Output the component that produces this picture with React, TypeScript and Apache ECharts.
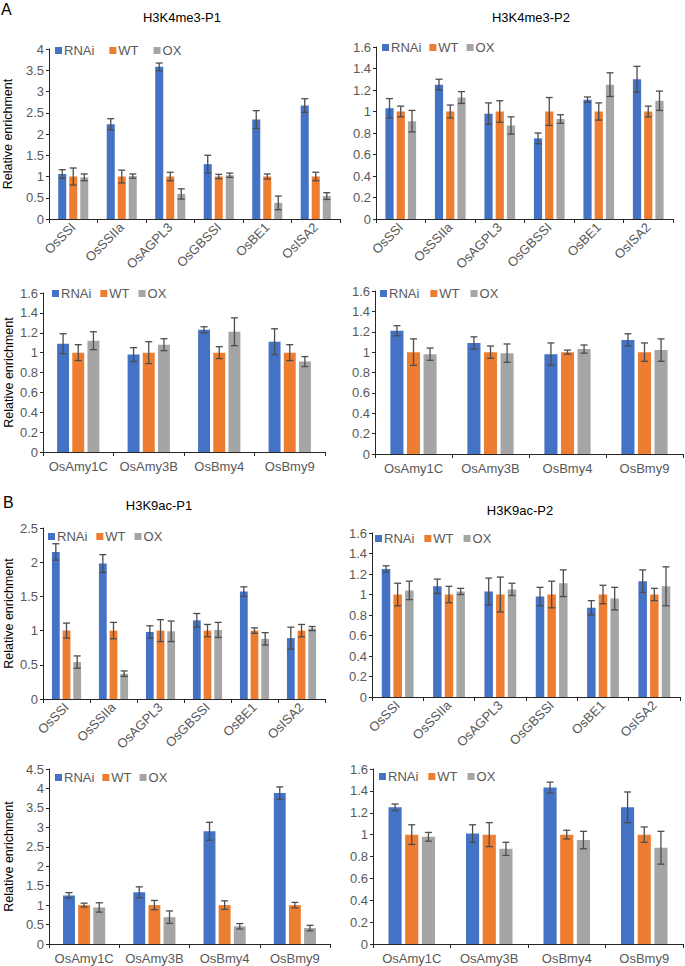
import React, { useEffect, useRef } from "react";
import * as echarts from "echarts";

const FONT = '"Liberation Sans", Arial, Helvetica, sans-serif';

const genesStarch = ["OsSSI", "OsSSIIa", "OsAGPL3", "OsGBSSI", "OsBE1", "OsISA2"];
const genesAmylase = ["OsAmy1C", "OsAmy3B", "OsBmy4", "OsBmy9"];
const seriesNames = ["RNAi", "WT", "OX"];
const seriesColors = ["#4472C4", "#ED7D31", "#A5A5A5"];

// rows: RNAi, WT, OX
const k4P1StarchMean = [[1.06, 2.23, 3.58, 1.29, 2.34, 2.67], [1, 1, 1, 1, 1, 1], [0.98, 1.01, 0.59, 1.03, 0.38, 0.54]];
const k4P1StarchErr = [[0.1, 0.13, 0.09, 0.21, 0.21, 0.16], [0.2, 0.15, 0.1, 0.05, 0.06, 0.1], [0.08, 0.05, 0.12, 0.05, 0.16, 0.08]];

const k4P2StarchMean = [[1.03, 1.25, 0.98, 0.75, 1.11, 1.3], [1, 1, 1, 1, 1, 1], [0.91, 1.13, 0.87, 0.93, 1.25, 1.1]];
const k4P2StarchErr = [[0.09, 0.05, 0.1, 0.05, 0.025, 0.12], [0.05, 0.06, 0.1, 0.13, 0.08, 0.05], [0.1, 0.055, 0.08, 0.04, 0.11, 0.09]];

const k4P1AmyMean = [[1.09, 0.98, 1.23, 1.11], [1, 1, 1, 1], [1.12, 1.08, 1.21, 0.91]];
const k4P1AmyErr = [[0.1, 0.07, 0.03, 0.13], [0.08, 0.11, 0.06, 0.08], [0.09, 0.06, 0.14, 0.05]];

const k4P2AmyMean = [[1.21, 1.09, 0.98, 1.12], [1, 1, 1, 1], [0.98, 0.99, 1.03, 1.02]];
const k4P2AmyErr = [[0.05, 0.06, 0.11, 0.06], [0.13, 0.06, 0.02, 0.09], [0.06, 0.09, 0.04, 0.11]];

const k9P1StarchMean = [[2.15, 1.98, 0.98, 1.15, 1.57, 0.89], [1, 1, 1, 1, 1, 1], [0.54, 0.37, 0.99, 1.01, 0.88, 1.03]];
const k9P1StarchErr = [[0.12, 0.13, 0.09, 0.1, 0.07, 0.16], [0.11, 0.12, 0.16, 0.09, 0.04, 0.09], [0.09, 0.04, 0.15, 0.11, 0.09, 0.03]];

const k9P2StarchMean = [[1.25, 1.08, 1.03, 0.98, 0.87, 1.13], [1, 1, 1, 1, 1, 1], [1.04, 1.03, 1.05, 1.11, 0.96, 1.08]];
const k9P2StarchErr = [[0.03, 0.07, 0.13, 0.09, 0.07, 0.11], [0.11, 0.08, 0.17, 0.13, 0.09, 0.06], [0.09, 0.03, 0.06, 0.13, 0.11, 0.19]];

const k9P1AmyMean = [[1.25, 1.33, 2.9, 3.88], [1, 1, 1, 1], [0.94, 0.69, 0.455, 0.41]];
const k9P1AmyErr = [[0.07, 0.14, 0.23, 0.16], [0.05, 0.12, 0.11, 0.07], [0.12, 0.16, 0.07, 0.07]];

const k9P2AmyMean = [[1.25, 1.01, 1.43, 1.25], [1, 1, 1, 1], [0.98, 0.87, 0.95, 0.88]];
const k9P2AmyErr = [[0.03, 0.08, 0.05, 0.14], [0.09, 0.11, 0.04, 0.07], [0.04, 0.06, 0.08, 0.15]];

const panels = [
  { cats: genesStarch, mean: k4P1StarchMean, err: k4P1StarchErr, max: 4, interval: 0.5, grid: { left: 48, top: 49, width: 292, height: 170 }, rotate: 45, yName: 35, legend: { left: 55, top: 44, gap: 15 }, catGap: 0.38, barGap: 0.37 },
  { cats: genesStarch, mean: k4P2StarchMean, err: k4P2StarchErr, max: 1.6, interval: 0.2, grid: { left: 376, top: 47, width: 297, height: 172 }, rotate: 45, yName: 0, legend: { left: 382, top: 41, gap: 8 }, catGap: 0.38, barGap: 0.37 },
  { cats: genesAmylase, mean: k4P1AmyMean, err: k4P1AmyErr, max: 1.6, interval: 0.2, grid: { left: 43, top: 293, width: 282, height: 159 }, rotate: 0, yName: 28, legend: { left: 52, top: 287, gap: 9 }, catGap: 0.4, barGap: 0.27 },
  { cats: genesAmylase, mean: k4P2AmyMean, err: k4P2AmyErr, max: 1.6, interval: 0.2, grid: { left: 375, top: 291, width: 308, height: 163 }, rotate: 0, yName: 0, legend: { left: 380, top: 287, gap: 11 }, catGap: 0.4, barGap: 0.27 },
  { cats: genesStarch, mean: k9P1StarchMean, err: k9P1StarchErr, max: 2.5, interval: 0.5, grid: { left: 43, top: 528, width: 282, height: 171 }, rotate: 45, yName: 28, legend: { left: 48, top: 530, gap: 9 }, catGap: 0.38, barGap: 0.37 },
  { cats: genesStarch, mean: k9P2StarchMean, err: k9P2StarchErr, max: 1.6, interval: 0.2, grid: { left: 372, top: 533, width: 308, height: 164 }, rotate: 45, yName: 0, legend: { left: 375, top: 532, gap: 10 }, catGap: 0.38, barGap: 0.37 },
  { cats: genesAmylase, mean: k9P1AmyMean, err: k9P1AmyErr, max: 4.5, interval: 0.5, grid: { left: 49, top: 769, width: 281, height: 175 }, rotate: 0, yName: 34, legend: { left: 55, top: 771, gap: 8 }, catGap: 0.4, barGap: 0.27 },
  { cats: genesAmylase, mean: k9P2AmyMean, err: k9P2AmyErr, max: 1.6, interval: 0.2, grid: { left: 373, top: 769, width: 310, height: 175 }, rotate: 0, yName: 0, legend: { left: 379, top: 770, gap: 10 }, catGap: 0.4, barGap: 0.27 },
];

const titles = [
  { text: "A", x: 1, y: 1, size: 16 },
  { text: "B", x: 3, y: 494, size: 16 },
  { text: "H3K4me3-P1", x: 182, y: 17, size: 13, center: true },
  { text: "H3K4me3-P2", x: 531, y: 17, size: 13, center: true },
  { text: "H3K9ac-P1", x: 159, y: 505, size: 13, center: true },
  { text: "H3K9ac-P2", x: 520, y: 510, size: 13, center: true },
];

function buildOption() {
  const grid: any[] = [];
  const xAxis: any[] = [];
  const yAxis: any[] = [];
  const series: any[] = [];
  const legend: any[] = [];
  const axisColor = "#262626";
  const labelColor = "#595959";

  panels.forEach((p, pi) => {
    grid.push({ ...p.grid, containLabel: false });
    xAxis.push({
      type: "category",
      gridIndex: pi,
      data: p.cats,
      axisLine: { lineStyle: { color: axisColor, width: 1 } },
      axisTick: { show: true, length: 4, lineStyle: { color: axisColor } },
      axisLabel: {
        color: labelColor,
        fontSize: 13,
        fontFamily: FONT,
        rotate: p.rotate,
        margin: p.rotate ? 6 : 8,
        interval: 0,
      },
    });
    yAxis.push({
      type: "value",
      gridIndex: pi,
      min: 0,
      max: p.max,
      interval: p.interval,
      splitLine: { show: false },
      axisLine: { show: true, lineStyle: { color: axisColor, width: 1 } },
      axisTick: { show: true, length: 3, lineStyle: { color: axisColor } },
      axisLabel: { color: labelColor, fontSize: 13, fontFamily: FONT, margin: 5 },
      name: p.yName ? "Relative enrichment" : "",
      nameLocation: "middle",
      nameGap: p.yName || 0,
      nameTextStyle: { color: "#000", fontSize: 12.5, fontFamily: FONT },
    });
    legend.push({
      left: p.legend.left,
      top: p.legend.top,
      itemGap: p.legend.gap,
      itemWidth: 7,
      itemHeight: 7,
      icon: "rect",
      padding: 0,
      data: seriesNames,
      textStyle: { color: labelColor, fontSize: 13, fontFamily: FONT, padding: [0, 0, 0, -3] },
    });
    seriesNames.forEach((name, si) => {
      series.push({
        type: "bar",
        name,
        xAxisIndex: pi,
        yAxisIndex: pi,
        data: p.mean[si],
        barGap: Math.round(p.barGap * 100) + "%",
        barCategoryGap: Math.round(p.catGap * 100) + "%",
        itemStyle: { color: seriesColors[si] },
        silent: true,
      });
    });
    seriesNames.forEach((name, si) => {
      const data = p.mean[si].map((m, ci) => [ci, m, p.err[si][ci]]);
      series.push({
        type: "custom",
        name: name + "-err",
        xAxisIndex: pi,
        yAxisIndex: pi,
        data,
        z: 5,
        silent: true,
        encode: { x: 0, y: 1 },
        renderItem: (params: any, api: any) => {
          const ci = api.value(0);
          const m = api.value(1);
          const e = api.value(2);
          const catW = api.size([1, 0])[0];
          const barW = (catW * (1 - p.catGap)) / (3 + 2 * p.barGap);
          const offset = (si - 1) * barW * (1 + p.barGap);
          const top = api.coord([ci, m + e]);
          const bot = api.coord([ci, m - e]);
          const x = top[0] + offset;
          const cap = 3.5;
          const style = { stroke: "#4d4d4d", lineWidth: 1.3 };
          return {
            type: "group",
            children: [
              { type: "line", shape: { x1: x, y1: top[1], x2: x, y2: bot[1] }, style },
              { type: "line", shape: { x1: x - cap, y1: top[1], x2: x + cap, y2: top[1] }, style },
              { type: "line", shape: { x1: x - cap, y1: bot[1], x2: x + cap, y2: bot[1] }, style },
            ],
          };
        },
      });
    });
  });

  const graphic = titles.map((t) => ({
    type: "text",
    x: t.x,
    y: t.y,
    style: {
      text: t.text,
      fill: "#000",
      font: `${t.size}px ${FONT}`,
      textAlign: t.center ? "center" : "left",
      textVerticalAlign: t.center ? "middle" : "top",
    },
  }));

  return {
    animation: false,
    color: seriesColors,
    grid,
    xAxis,
    yAxis,
    series,
    legend,
    graphic,
  };
}

export default function App() {
  const ref = useRef<HTMLDivElement>(null);
  useEffect(() => {
    document.body.style.margin = "0";
    if (!ref.current) return;
    const chart = echarts.init(ref.current, undefined, { renderer: "svg" });
    chart.setOption(buildOption() as any);
    return () => chart.dispose();
  }, []);
  return (
    <div
      ref={ref}
      style={{ position: "absolute", left: 0, top: 0, width: 685, height: 966, background: "#fff" }}
    />
  );
}
